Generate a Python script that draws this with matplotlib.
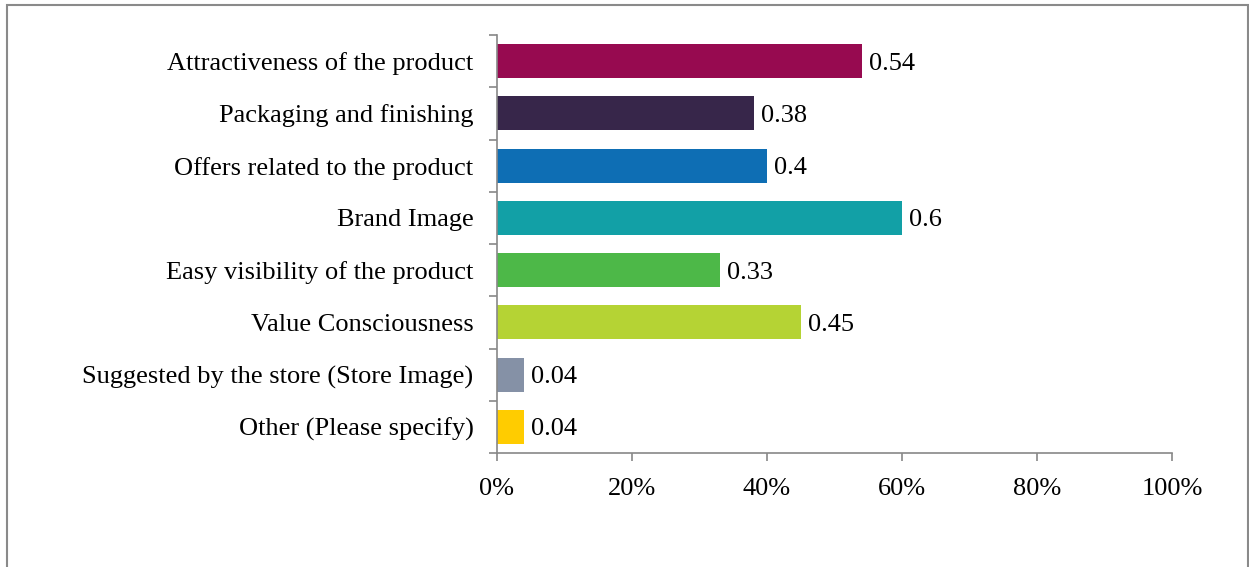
import matplotlib.pyplot as plt
from matplotlib.patches import Rectangle
from matplotlib.ticker import FuncFormatter, FixedLocator

factors = [
    "Attractiveness of the product",
    "Packaging and finishing",
    "Offers related to the product",
    "Brand Image",
    "Easy visibility of the product",
    "Value Consciousness",
    "Suggested by the store (Store Image)",
    "Other (Please specify)",
]
shares = [0.54, 0.38, 0.4, 0.6, 0.33, 0.45, 0.04, 0.04]
colors = ["#970A50", "#37264A", "#0E6EB4", "#12A0A6",
          "#4DB848", "#B5D334", "#8591A6", "#FFCC00"]

plt.rcParams["font.family"] = ["Liberation Serif", "DejaVu Serif"]
FS = 19

fig = plt.figure(figsize=(12.49, 5.67), dpi=100)
W, H = 1249, 567
# axes box in pixel coords: x 497..1172, y 35..453 (from top)
ax = fig.add_axes([497 / W, 1 - 453 / H, 675 / W, 418 / H])

ypos = list(range(len(factors)))
ax.barh(ypos, shares, height=0.65, color=colors)
for y, v in zip(ypos, shares):
    ax.text(v + 0.011, y, f"{v:g}", va="center_baseline", ha="left", fontsize=FS)

ax.set_xlim(0, 1)
ax.set_ylim(len(factors) - 0.5, -0.5)
ax.set_xticks([0, 0.2, 0.4, 0.6, 0.8, 1.0])
ax.xaxis.set_major_formatter(FuncFormatter(lambda x, _: f"{x * 100:.0f}%"))
ax.set_yticks(ypos)
ax.set_yticklabels(factors, fontsize=FS)
ax.yaxis.set_minor_locator(FixedLocator([i - 0.5 for i in range(len(factors) + 1)]))
ax.tick_params(axis="y", which="major", length=0, pad=17)
ax.tick_params(axis="y", which="minor", length=6, color="#888888", width=1.2)
ax.tick_params(axis="x", length=6, color="#888888", width=1.2, labelsize=FS, pad=12)

for side in ["top", "right"]:
    ax.spines[side].set_visible(False)
for side in ["left", "bottom"]:
    ax.spines[side].set_color("#888888")
    ax.spines[side].set_linewidth(1.2)

# outer chart frame
fig.patches.append(Rectangle((7 / W, -0.05), (1248 - 7) / W, 1 - 5 / H + 0.05,
                             transform=fig.transFigure, fill=False,
                             edgecolor="#8a8a8a", linewidth=1.5))

fig.savefig("out.png", dpi=100)
